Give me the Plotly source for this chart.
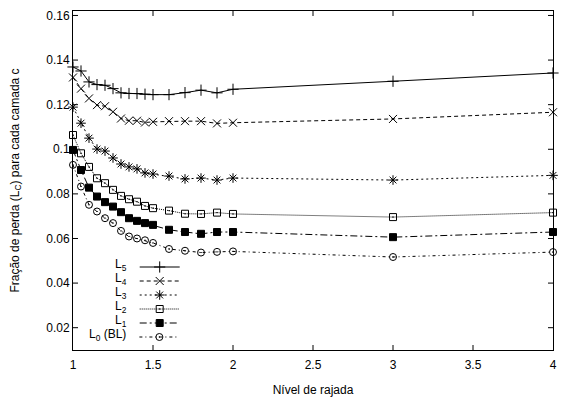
import plotly.graph_objects as go

# ---- data ----
rajada = [1.0, 1.05, 1.1, 1.15, 1.2, 1.25, 1.3, 1.35, 1.4, 1.45, 1.5,
          1.6, 1.7, 1.8, 1.9, 2.0, 3.0, 4.0]

L5 = [0.1369, 0.1351, 0.1302, 0.1290, 0.1287, 0.1272, 0.1253, 0.1250, 0.1250,
      0.1247, 0.1245, 0.1245, 0.1254, 0.1265, 0.1253, 0.1269, 0.1305, 0.1342]
L4 = [0.1322, 0.1272, 0.1228, 0.1198, 0.1193, 0.1168, 0.1138, 0.1128, 0.1128,
      0.1120, 0.1123, 0.1126, 0.1126, 0.1126, 0.1116, 0.1119, 0.1136, 0.1166]
L3 = [0.1189, 0.1117, 0.1050, 0.1001, 0.0992, 0.0961, 0.0934, 0.0921, 0.0912,
      0.0894, 0.0889, 0.0880, 0.0867, 0.0871, 0.0862, 0.0871, 0.0862, 0.0883]
L2 = [0.1064, 0.0982, 0.0921, 0.0870, 0.0848, 0.0818, 0.0791, 0.0776, 0.0765,
      0.0746, 0.0736, 0.0725, 0.0711, 0.0710, 0.0716, 0.0710, 0.0696, 0.0716]
L1 = [0.0997, 0.0907, 0.0828, 0.0788, 0.0763, 0.0743, 0.0718, 0.0691, 0.0679,
      0.0669, 0.0661, 0.0639, 0.0629, 0.0621, 0.0629, 0.0629, 0.0606, 0.0629]
L0 = [0.0930, 0.0833, 0.0751, 0.0721, 0.0691, 0.0669, 0.0634, 0.0609, 0.0600,
      0.0592, 0.0580, 0.0553, 0.0545, 0.0537, 0.0540, 0.0542, 0.0517, 0.0539]

series_names = ["L<sub>5</sub>", "L<sub>4</sub>", "L<sub>3</sub>",
                "L<sub>2</sub>", "L<sub>1</sub>", "L<sub>0</sub> (BL)"]
series_values = [L5, L4, L3, L2, L1, L0]

x_tickvals = [1, 1.5, 2, 2.5, 3, 3.5, 4]
x_ticktext = ["1", "1.5", "2", "2.5", "3", "3.5", "4"]
y_tickvals = [0.02, 0.04, 0.06, 0.08, 0.10, 0.12, 0.14, 0.16]
y_ticktext = ["0.02", "0.04", "0.06", "0.08", "0.1", "0.12", "0.14", "0.16"]

# ---- styles ----
symbols = ["cross-thin-open", "x-thin-open", "asterisk-open",
           "square-open-dot", "square", "circle-open-dot"]
sizes = [8, 8, 8, 7, 7, 7]
dashes = ["solid", "4px,3px", "2px,3px", "1px,1px", "7px,3px,2px,3px", "3px,3px,1px,3px"]

W, H = 567, 398
ML, MR, MT, MB = 73, 14, 11, 48
PW, PH = W - ML - MR, H - MT - MB
FONT = "Liberation Sans, Arial, sans-serif"

fig = go.Figure()
legend_layout = {}
for i, (name, vals) in enumerate(zip(series_names, series_values)):
    lg = "legend" if i == 0 else f"legend{i + 1}"
    fig.add_trace(go.Scatter(
        x=rajada, y=vals, mode="lines+markers", name="",
        legend=lg, showlegend=True, cliponaxis=False,
        line=dict(color="black", width=1, dash=dashes[i]),
        marker=dict(symbol=symbols[i], size=sizes[i], color="black",
                    line=dict(color="black", width=1)),
    ))
    py = 267 + 14 * i
    legend_layout[lg] = dict(
        x=(190 - ML) / PW, xanchor="right",
        y=(MT + PH - py) / PH, yanchor="middle",
        bgcolor="rgba(0,0,0,0)", borderwidth=0, itemwidth=40,
        font=dict(family=FONT, size=12, color="black"),
        title=dict(text=name, side="left",
                   font=dict(family=FONT, size=12, color="black")),
    )

fig.update_layout(
    template="none",
    width=W, height=H,
    margin=dict(l=ML, r=MR, t=MT, b=MB),
    paper_bgcolor="white", plot_bgcolor="white",
    font=dict(family=FONT, size=12, color="black"),
    **legend_layout,
)
axis_common = dict(showline=True, linecolor="black", linewidth=1, mirror="allticks",
                   ticks="inside", ticklen=5, tickcolor="black", tickwidth=1,
                   showgrid=False, zeroline=False, automargin=False,
                   tickfont=dict(family=FONT, size=12, color="black"))
fig.update_xaxes(range=[1, 4], tickvals=x_tickvals, ticktext=x_ticktext,
                 ticklabelstandoff=4,
                 title=dict(text="Nível de rajada", standoff=14,
                            font=dict(family=FONT, size=12)),
                 **axis_common)
fig.update_yaxes(range=[0.01, 0.162], tickvals=y_tickvals, ticktext=y_ticktext,
                 title=dict(text="Fração de perda (L<sub>C</sub>) para cada camada c",
                            standoff=24, font=dict(family=FONT, size=12)),
                 **axis_common)

post = (
    "document.body.style.margin='0';"
    "document.body.style.overflow='hidden';"
    "var s=document.createElement('style');"
    "s.textContent='.main-svg path{shape-rendering:geometricPrecision !important;"
    "vector-effect:none !important;}';"
    "document.head.appendChild(s);"
)
fig.write_html("out.html", config={"displayModeBar": False}, post_script=post)
